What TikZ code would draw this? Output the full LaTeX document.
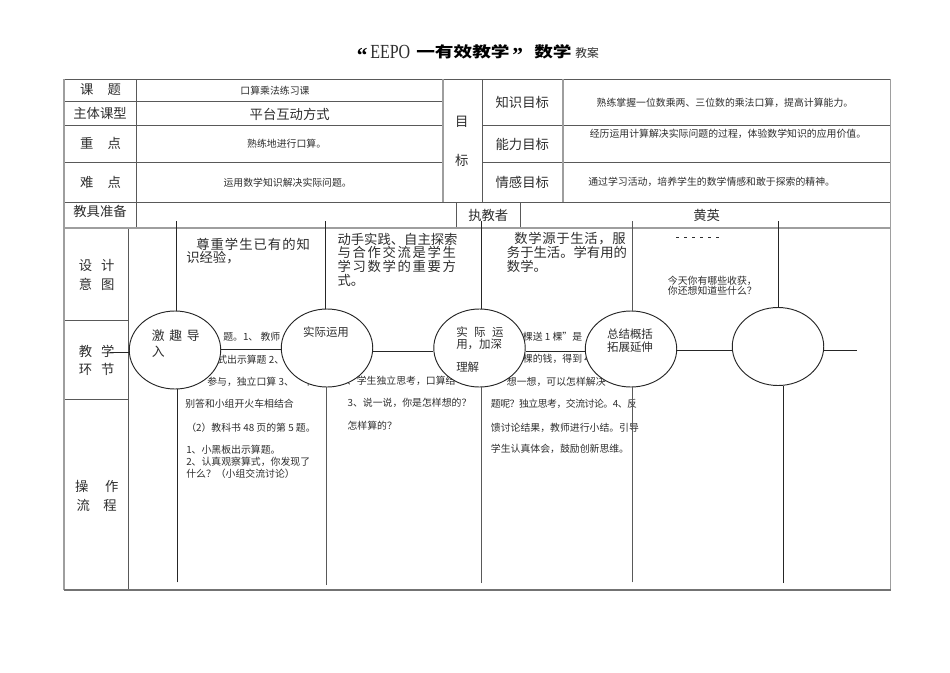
\documentclass[tikz,border=0pt]{standalone}
\usepackage{fontspec}
\usetikzlibrary{shapes.geometric}
\setmainfont{Liberation Serif}
\newfontfamily\cjk{Noto Sans CJK SC}
\newfontfamily\cjkwide[FakeStretch=1.25]{Noto Sans CJK SC}
\newfontfamily\eepo[FakeStretch=0.8]{Liberation Serif}
\newcommand\lsp[1]{\addfontfeature{LetterSpace=#1}}
\definecolor{ink}{gray}{0.18}
\definecolor{rule}{gray}{0.35}
\definecolor{palerule}{gray}{0.62}
\tikzset{
  big/.style={font=\cjk\fontsize{10}{12}\selectfont,inner sep=0pt,text=ink},
  small/.style={font=\cjk\fontsize{7.4}{9}\selectfont,inner sep=0pt,text=ink},
  mid/.style={font=\cjk\fontsize{8.6}{10}\selectfont,inner sep=0pt,text=ink},
  design/.style={inner sep=0pt,text=ink,anchor=west},
  smallw/.style={small,anchor=west},
  midw/.style={mid,anchor=west},
  tblrule/.style={draw=rule,line width=.65pt},
  palerl/.style={draw=palerule,line width=1.1pt},
  wire/.style={draw=black!85,line width=.75pt},
  stage/.style={ellipse,draw=black!85,fill=white,line width=.7pt,inner sep=0pt,minimum width=68.6pt,minimum height=58.5pt}
}
\begin{document}
\begin{tikzpicture}[x=.75pt,y=-.75pt]
\useasboundingbox (0,0) rectangle (950,672);
\fill[white] (0,0) rectangle (950,672);
% title
\node[anchor=west,inner sep=0pt,font=\bfseries\fontsize{16}{16}\selectfont] (q1) at (356.5,55) {“};
\node[anchor=west,inner sep=0pt,font=\eepo\fontsize{15}{16}\selectfont,text=ink] (ep) at (370,52) {EEPO};
\node[anchor=west,inner sep=0pt,font=\cjkwide\bfseries\fontsize{11.2}{14}\selectfont] (t1) at (416,52) {一有效教学};
\node[anchor=west,inner sep=0pt,font=\bfseries\fontsize{16}{16}\selectfont] (q2) at (512,55) {”};
\node[anchor=west,inner sep=0pt,font=\cjkwide\bfseries\fontsize{11.2}{14}\selectfont] (t2) at (534,52) {数学};
\node[anchor=west,inner sep=0pt,font=\cjk\fontsize{8.8}{10}\selectfont,text=ink] (t3) at (575,53) {教案};
% table rules
\draw[tblrule] (64,79) -- (890,79);
\draw[tblrule] (64,101.5) -- (443,101.5);
\draw[tblrule] (64,125) -- (443,125);
\draw[tblrule] (482,125) -- (890,125);
\draw[tblrule] (64,162) -- (443,162);
\draw[tblrule] (482,162) -- (890,162);
\draw[tblrule] (64,202) -- (890,202);
\draw[tblrule] (136,79) -- (136,228);
\draw[palerl,line width=.8pt] (443,79) -- (443,202);
\draw[tblrule] (482,79) -- (482,202);
\draw[palerl,line width=.8pt] (563,79) -- (563,202);
\draw[tblrule] (456.7,202) -- (456.7,228);
\draw[tblrule] (520.7,202) -- (520.7,228);
\draw[tblrule] (128.7,228) -- (128.7,590);
\draw[tblrule] (64,320) -- (128.7,320);
\draw[tblrule] (64,399.4) -- (128.7,399.4);
\draw[palerl] (64,228) -- (890,228);
\draw[palerl] (64,79) -- (64,590);
\draw[palerl] (890.5,79) -- (890.5,590);
\draw[draw=black!55,line width=.9pt] (64,590) -- (890.5,590);
% header labels
\node[big] (a1) at (100.5,90) {课\hspace{10.5pt}题};
\node[big] (a2) at (100,113.5) {主体课型};
\node[big] (a3) at (100.5,143.3) {重\hspace{10.5pt}点};
\node[big] (a4) at (100.5,182) {难\hspace{10.5pt}点};
\node[big] (a5) at (100,211.7) {教具准备};
\node[small] (b1) at (275,90.7) {口算乘法练习课};
\node[big] (b2) at (289.7,114) {平台互动方式};
\node[small] (b3) at (286.7,143.3) {熟练地进行口算。};
\node[small] (b4) at (287.7,182.3) {运用数学知识解决实际问题。};
\node[big] (c1) at (461.7,122) {目};
\node[big] (c2) at (461.7,160) {标};
\node[big] (d1) at (522.3,102) {知识目标};
\node[big] (d2) at (522.3,144) {能力目标};
\node[big] (d3) at (522.3,182) {情感目标};
\node[small] (e1t) at (725,102.7) {熟练掌握一位数乘两、三位数的乘法口算，提高计算能力。};
\node[small] (e2t) at (728,134.3) {经历运用计算解决实际问题的过程，体验数学知识的应用价值。};
\node[small] (e3t) at (711.7,182.3) {通过学习活动，培养学生的数学情感和敢于探索的精神。};
\node[big] (f1) at (488.3,215.7) {执教者};
\node[big] (f2) at (706.7,215.7) {黄英};
% left column
\node[big] (g1) at (96.7,265.7) {设\hspace{6.6pt}计};
\node[big] (g2) at (96.7,284.3) {意\hspace{6.6pt}图};
\node[big] (g3) at (96.7,351) {教\hspace{6.6pt}学};
\node[big] (g4) at (96.7,369) {环\hspace{6.6pt}节};
\node[big] (g5) at (96.7,486.7) {操\hspace{12.5pt}作};
\node[big] (g6) at (96.7,505) {流\hspace{10pt}程};
% design intent
\node[design,font=\cjk\fontsize{10}{12}\selectfont\lsp{7.5}] (h1) at (196,244.3) {尊重学生已有的知};
\node[design,font=\cjk\fontsize{10}{12}\selectfont] (h2) at (186,257.3) {识经验，};
\node[design,font=\cjk\fontsize{10}{12}\selectfont] (h3) at (337.3,239) {动手实践、自主探索};
\node[design,font=\cjk\fontsize{10}{12}\selectfont\lsp{12.5}] (h4) at (337.3,252.7) {与合作交流是学生};
\node[design,font=\cjk\fontsize{10}{12}\selectfont\lsp{12.5}] (h5) at (337.3,266) {学习数学的重要方};
\node[design,font=\cjk\fontsize{10}{12}\selectfont] (h6) at (337.3,280) {式。};
\node[design,font=\cjk\fontsize{10}{12}\selectfont\lsp{5}] (h7) at (514,239) {数学源于生活，服};
\node[design,font=\cjk\fontsize{10}{12}\selectfont] (h8) at (506.7,252.7) {务于生活。学有用的};
\node[design,font=\cjk\fontsize{10}{12}\selectfont] (h9) at (506.7,266) {数学。};
\draw[ink,line width=.4pt,dash pattern=on 2pt off 4pt] (676,237.3) -- (723,237.3);
\node[smallw] (h10) at (667.7,280.7) {今天你有哪些收获，};
\node[smallw] (h11) at (667.7,290.7) {你还想知道些什么？};
% operation text
\node[smallw] (i1) at (223,336.7) {题。1、 教师};
\node[smallw] (i2) at (217,359.5) {式出示算题 2、学};
\node[smallw] (i3) at (207,382) {参与，独立口算 3、};
\node[smallw] (i3b) at (303,382) {个};
\node[smallw] (i4) at (185,404) {别答和小组开火车相结合};
\node[smallw] (i5) at (186,427.7) {（2）教科书 48 页的第 5 题。};
\node[smallw] (i6) at (186,449.3) {1、小黑板出示算题。};
\node[smallw] (i7) at (186,462.3) {2、认真观察算式，你发现了};
\node[smallw] (i8) at (186,473.3) {什么？（小组交流讨论）};
\node[smallw] (j1) at (346.7,380.7) {、学生独立思考，口算结};
\node[smallw] (j2) at (347.3,403.3) {3、说一说，你是怎样想的？};
\node[smallw] (j3) at (347.3,425.7) {怎样算的？};
\node[smallw] (k1) at (522.7,336.7) {棵送 1 棵”是};
\node[smallw] (k2) at (522.7,359) {棵的钱，得到 4};
\node[smallw] (k3) at (506.7,381.7) {想一想，可以怎样解决};
\node[smallw,font=\cjk\fontsize{7.4}{9}\selectfont\lsp{-5}] (k4) at (490.7,404.3) {题呢？独立思考，交流讨论。4、反};
\node[smallw] (k5) at (490.7,427.7) {馈讨论结果，教师进行小结。引导};
\node[smallw] (k6) at (490.7,449.3) {学生认真体会，鼓励创新思维。};
% free ends
\coordinate (top1) at (176.3,221);
\coordinate (top2) at (325.3,221);
\coordinate (top3) at (481.5,221);
\coordinate (top4) at (632.5,221);
\coordinate (top5) at (778.3,221);
\coordinate (bot1) at (177.3,582.3);
\coordinate (bot2) at (326.3,585);
\coordinate (bot3) at (481.7,583);
\coordinate (bot4) at (632.7,582.3);
\coordinate (bot5) at (783.7,583);
\coordinate (inl) at (110,352);
\coordinate (outr) at (857,350.3);
% stages
\node[stage] (s1) at (175,350) {};
\node[stage] (s2) at (327,348) {};
\node[stage] (s3) at (479.5,348) {};
\node[stage,minimum height=57pt] (s4) at (631,349) {};
\node[stage] (s5) at (778,346.5) {};
% connectors
\draw[wire] (top1) -- (top1 |- s1.north);
\draw[wire] (top2) -- (top2 |- s2.north);
\draw[wire] (top3) -- (top3 |- s3.north);
\draw[wire,draw=black!65] (top4) -- (top4 |- s4.north);
\draw[wire] (top5) -- (top5 |- s5.north);
\draw[wire] (bot1) -- (bot1 |- s1.south);
\draw[wire,draw=black!65] (bot2) -- (bot2 |- s2.south);
\draw[wire,draw=black!65] (bot3) -- (bot3 |- s3.south);
\draw[wire,draw=black!65] (bot4) -- (bot4 |- s4.south);
\draw[wire] (bot5) -- (bot5 |- s5.south);
\draw[wire] (inl) -- (s1.west |- inl);
\draw[wire] (s1.east |- 0,349.3) -- (s2.west |- 0,349.3);
\draw[wire] (s2.east |- 0,351) -- (s3.west |- 0,351);
\draw[wire] (s3.east |- 0,351.3) -- (s4.west |- 0,351.3);
\draw[wire] (s4.east |- 0,350.3) -- (s5.west |- 0,350.3);
\draw[wire] (s5.east |- outr) -- (outr);
% stage labels
\node[design,font=\cjk\fontsize{9.6}{12}\selectfont\lsp{36}] (l1) at (151.7,335.7) {激趣导};
\node[design,font=\cjk\fontsize{9.6}{12}\selectfont] (l2) at (151.7,351.7) {入};
\node[mid] (l3) at (326,331.7) {实际运用};
\node[design,font=\cjk\fontsize{8.6}{10}\selectfont\lsp{56}] (l4) at (456,331.7) {实际运};
\node[midw] (l5) at (456,344.3) {用，加深};
\node[midw] (l6) at (456,367) {理解};
\node[mid] (l7) at (630,334) {总结概括};
\node[mid] (l8) at (630,347.3) {拓展延伸};
\end{tikzpicture}
\end{document}
